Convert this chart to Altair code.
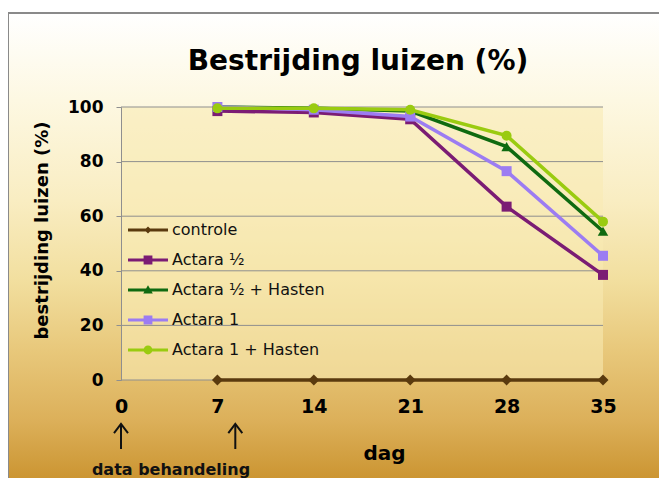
import altair as alt
import pandas as pd

# ---- data ----
series = ["controle", "Actara ½", "Actara ½ + Hasten", "Actara 1", "Actara 1 + Hasten"]
days = [7, 14, 21, 28, 35]
controle = [0, 0, 0, 0, 0]
actara_half = [98.5, 98, 95.5, 63.5, 38.5]
actara_half_hasten = [100, 99.5, 98.5, 85.5, 54.5]
actara_1 = [100, 99, 96.5, 76.5, 45.5]
actara_1_hasten = [99.5, 99.5, 99, 89.5, 58]
colors = ["#5a3a0e", "#7b1c74", "#0f6a10", "#9c7cf2", "#9acb10"]
x_ticks = [0, 7, 14, 21, 28, 35]
y_ticks = [0, 20, 40, 60, 80, 100]
arrow_days = [0, 8.3]

# plot markers
marker_shapes = ["diamond", "square", "triangle-up", "square", "circle"]
marker_sizes = [120, 100, 110, 100, 100]
# legend symbols: a thin bar (the line) plus the marker, all drawn clockwise
bar = "M-5,-0.35H5V0.35H-5Z"
legend_shapes = [
    bar + "M0,-0.9L0.9,0L0,0.9L-0.9,0Z",
    bar + "M-1.1,-1.1H1.1V1.1H-1.1Z",
    bar + "M0,-1.2L1.2,0.9H-1.2Z",
    bar + "M-1.1,-1.1H1.1V1.1H-1.1Z",
    bar + "M-1.1,0A1.1,1.1,0,1,1,1.1,0A1.1,1.1,0,1,1,-1.1,0Z",
]

values = [controle, actara_half, actara_half_hasten, actara_1, actara_1_hasten]
rows = []
for s, vals in zip(series, values):
    for d, v in zip(days, vals):
        rows.append({"series": s, "day": d, "value": v})
df = pd.DataFrame(rows)

FONT = "DejaVu Sans"
W, H = 482, 273

xscale = alt.Scale(domain=[0, 35], nice=False, zero=False)
yscale = alt.Scale(domain=[0, 100], nice=False)
cscale = alt.Scale(domain=series, range=colors)
lshape = alt.Scale(domain=series, range=legend_shapes)

legend = alt.Legend(
    title=None, orient="none", legendX=19, legendY=115,
    labelFont=FONT, labelFontSize=16, labelColor="#111111", labelLimit=300,
    labelOffset=16, rowPadding=14, padding=0,
    symbolSize=64, symbolStrokeWidth=0, symbolOpacity=1,
)

one = pd.DataFrame({"a": [0]})

bg = alt.Chart(one).mark_rect(
    fill=alt.LinearGradient(
        gradient="linear", x1=0, x2=0, y1=0, y2=1,
        stops=[
            alt.GradientStop(color="#ffffff", offset=0),
            alt.GradientStop(color="#fdf8e2", offset=0.184),
            alt.GradientStop(color="#f9edc2", offset=0.395),
            alt.GradientStop(color="#f2df9f", offset=0.563),
            alt.GradientStop(color="#e8c87b", offset=0.711),
            alt.GradientStop(color="#dcb05a", offset=0.859),
            alt.GradientStop(color="#c9912c", offset=1.0),
        ],
    ),
    stroke="#8a8a8a", strokeWidth=2,
).encode(x=alt.value(-113), x2=alt.value(560), y=alt.value(-94), y2=alt.value(380))

plot_df = pd.DataFrame({"x0": [0], "x1": [35], "y0": [0], "y1": [100]})
plotfill = alt.Chart(plot_df).mark_rect(fill="#f8ebb4", opacity=0.58).encode(
    x=alt.X("x0:Q", scale=xscale,
            axis=alt.Axis(values=x_ticks, title="dag", grid=False, domain=False, ticks=False,
                          labelFont=FONT, labelFontSize=19, labelFontWeight="bold",
                          labelColor="#000000", labelPadding=17, labelFlush=False,
                          titleFont=FONT, titleFontSize=20, titleFontWeight="bold",
                          titleColor="#000000", titleX=263, titleY=73,
                          titleBaseline="middle", titleAlign="center", zindex=1)),
    x2="x1:Q",
    y=alt.Y("y0:Q", scale=yscale,
            axis=alt.Axis(values=y_ticks, title="bestrijding luizen (%)", grid=False,
                          domain=True, domainColor="#8f8f8f", domainWidth=1,
                          ticks=True, tickColor="#8f8f8f", tickSize=5, tickWidth=1,
                          labelFont=FONT, labelFontSize=17, labelFontWeight="bold",
                          labelColor="#000000", labelPadding=13,
                          titleFont=FONT, titleFontSize=18, titleFontWeight="bold",
                          titleColor="#000000", titleAngle=270, titleX=-79, titleY=123,
                          titleBaseline="middle", titleAlign="center", zindex=1)),
    y2="y1:Q",
)

grid_df = pd.DataFrame({"v": y_ticks, "x0": [0] * len(y_ticks), "x1": [35] * len(y_ticks)})
grid = alt.Chart(grid_df).mark_rule(color="#8f8f8f", strokeWidth=1).encode(
    y=alt.Y("v:Q", scale=yscale), x=alt.X("x0:Q", scale=xscale), x2="x1:Q"
)

base = alt.Chart(df)

series_layers = []
for s, col, shp, sz in zip(series, colors, marker_shapes, marker_sizes):
    sub = base.transform_filter(alt.datum.series == s)
    series_layers.append(
        sub.mark_line(strokeWidth=3.5, color=col).encode(
            x=alt.X("day:Q", scale=xscale),
            y=alt.Y("value:Q", scale=yscale),
            order="day:Q",
        )
    )
    series_layers.append(
        sub.mark_point(filled=True, opacity=1, shape=shp, size=sz, strokeWidth=0, fill=col)
        .encode(
            x=alt.X("day:Q", scale=xscale),
            y=alt.Y("value:Q", scale=yscale),
        )
    )

# invisible layer that only carries the legend
legend_layer = base.mark_point(filled=True, opacity=0).encode(
    x=alt.X("day:Q", scale=xscale),
    y=alt.Y("value:Q", scale=yscale),
    color=alt.Color("series:N", scale=cscale, legend=legend),
    shape=alt.Shape("series:N", scale=lshape, legend=legend),
)

arrow_df = pd.DataFrame({"day": arrow_days})
shafts = alt.Chart(arrow_df).mark_rule(color="#111111", strokeWidth=2).encode(
    x=alt.X("day:Q", scale=xscale), y=alt.value(318), y2=alt.value(342)
)
heads = alt.Chart(arrow_df).mark_point(
    shape="M-1,1.3L0,0L1,1.3", filled=False, stroke="#111111", strokeWidth=2,
    size=196, opacity=1,
).encode(x=alt.X("day:Q", scale=xscale), y=alt.value(317))

note = alt.Chart(one).mark_text(
    text="data behandeling", font=FONT, fontSize=16, fontWeight="bold",
    color="#111111", align="center", baseline="alphabetic",
).encode(x=alt.value(50), y=alt.value(368))

title = alt.Chart(one).mark_text(
    text="Bestrijding luizen (%)", font=FONT, fontSize=28, fontWeight="bold",
    color="#000000", align="center", baseline="alphabetic",
).encode(x=alt.value(237), y=alt.value(-37))

chart = alt.layer(bg, plotfill, grid, *series_layers, legend_layer,
                  shafts, heads, note, title).properties(
    width=W, height=H,
    padding={"left": 113, "top": 99, "right": 56, "bottom": 98},
    autosize=alt.AutoSizeParams(type="none"),
).configure_view(stroke=None)

chart.save("out.html", embed_options={"renderer": "svg", "actions": False})
